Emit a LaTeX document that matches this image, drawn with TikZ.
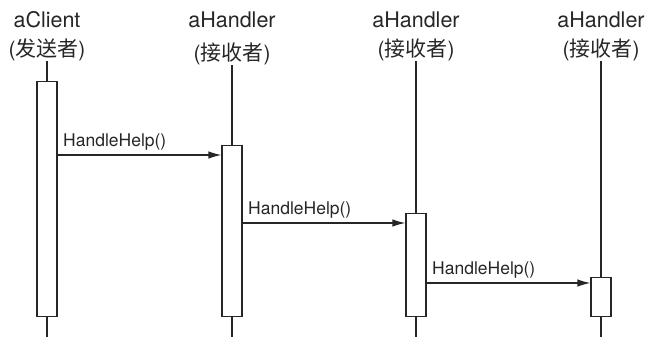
\documentclass[tikz,border=0pt]{standalone}
\usepackage{fontspec}
\setmainfont{TeX Gyre Heros}
\newfontfamily\cjk{Noto Sans CJK SC}
\usetikzlibrary{positioning, arrows.meta}

\begin{document}
\begin{tikzpicture}[
    x=1pt, y=-1pt,
    >=Latex,
    obj/.style={font=\fontsize{21.5}{23}\selectfont, inner sep=0pt, text=black!85},
    role/.style={font=\fontsize{21}{23}\selectfont, inner sep=0pt, text=black!85},
    act/.style={rectangle, draw=black!85, fill=white, line width=1.2pt,
                minimum width=20pt, inner sep=0pt, anchor=north},
    life/.style={draw=black!85, line width=1.2pt},
    msg/.style={-{Latex[length=13pt, width=7.5pt]}, draw=black!85, line width=1.2pt},
    lbl/.style={font=\fontsize{17.5}{19}\selectfont, inner sep=0pt, text=black!85,
                anchor=south west, xshift=5pt, yshift=4pt}
]
  \useasboundingbox (0,0) rectangle (651,337);

  % Headers: sender and three receivers
  \node[obj]  (clientname) at (47,20) {aClient};
  \node[role] (clientrole) at (47,50) {({\cjk 发送者})};
  \node[obj]  (h1name) at (232,20) {aHandler};
  \node[role] (h1role) at (232,54) {({\cjk 接收者})};
  \node[obj]  (h2name) at (416,20) {aHandler};
  \node[role] (h2role) at (416,50) {({\cjk 接收者})};
  \node[obj]  (h3name) at (601,20) {aHandler};
  \node[role] (h3role) at (601,50) {({\cjk 接收者})};

  % Lifelines
  \foreach \who in {client, h1, h2, h3}
    \draw[life] (\who role.south) -- (\who role.south |- 0,337);

  % Activation boxes
  \node[act, minimum height=235pt] (client) at (47,81) {};
  \node[act, minimum height=171pt] (h1) at (232,145) {};
  \node[act, minimum height=103pt] (h2) at (416,213) {};
  \node[act, minimum height=39pt]  (h3) at (601,277) {};

  % Messages
  \coordinate (in1) at ([yshift=-10pt]h1.north west);
  \coordinate (in2) at ([yshift=-10pt]h2.north west);
  \coordinate (in3) at ([yshift=-6pt]h3.north west);
  \draw[msg] (client.east |- in1) node[lbl] {HandleHelp()} -- (in1);
  \draw[msg] (h1.east |- in2) node[lbl] {HandleHelp()} -- (in2);
  \draw[msg] (h2.east |- in3) node[lbl] {HandleHelp()} -- (in3);
\end{tikzpicture}
\end{document}
